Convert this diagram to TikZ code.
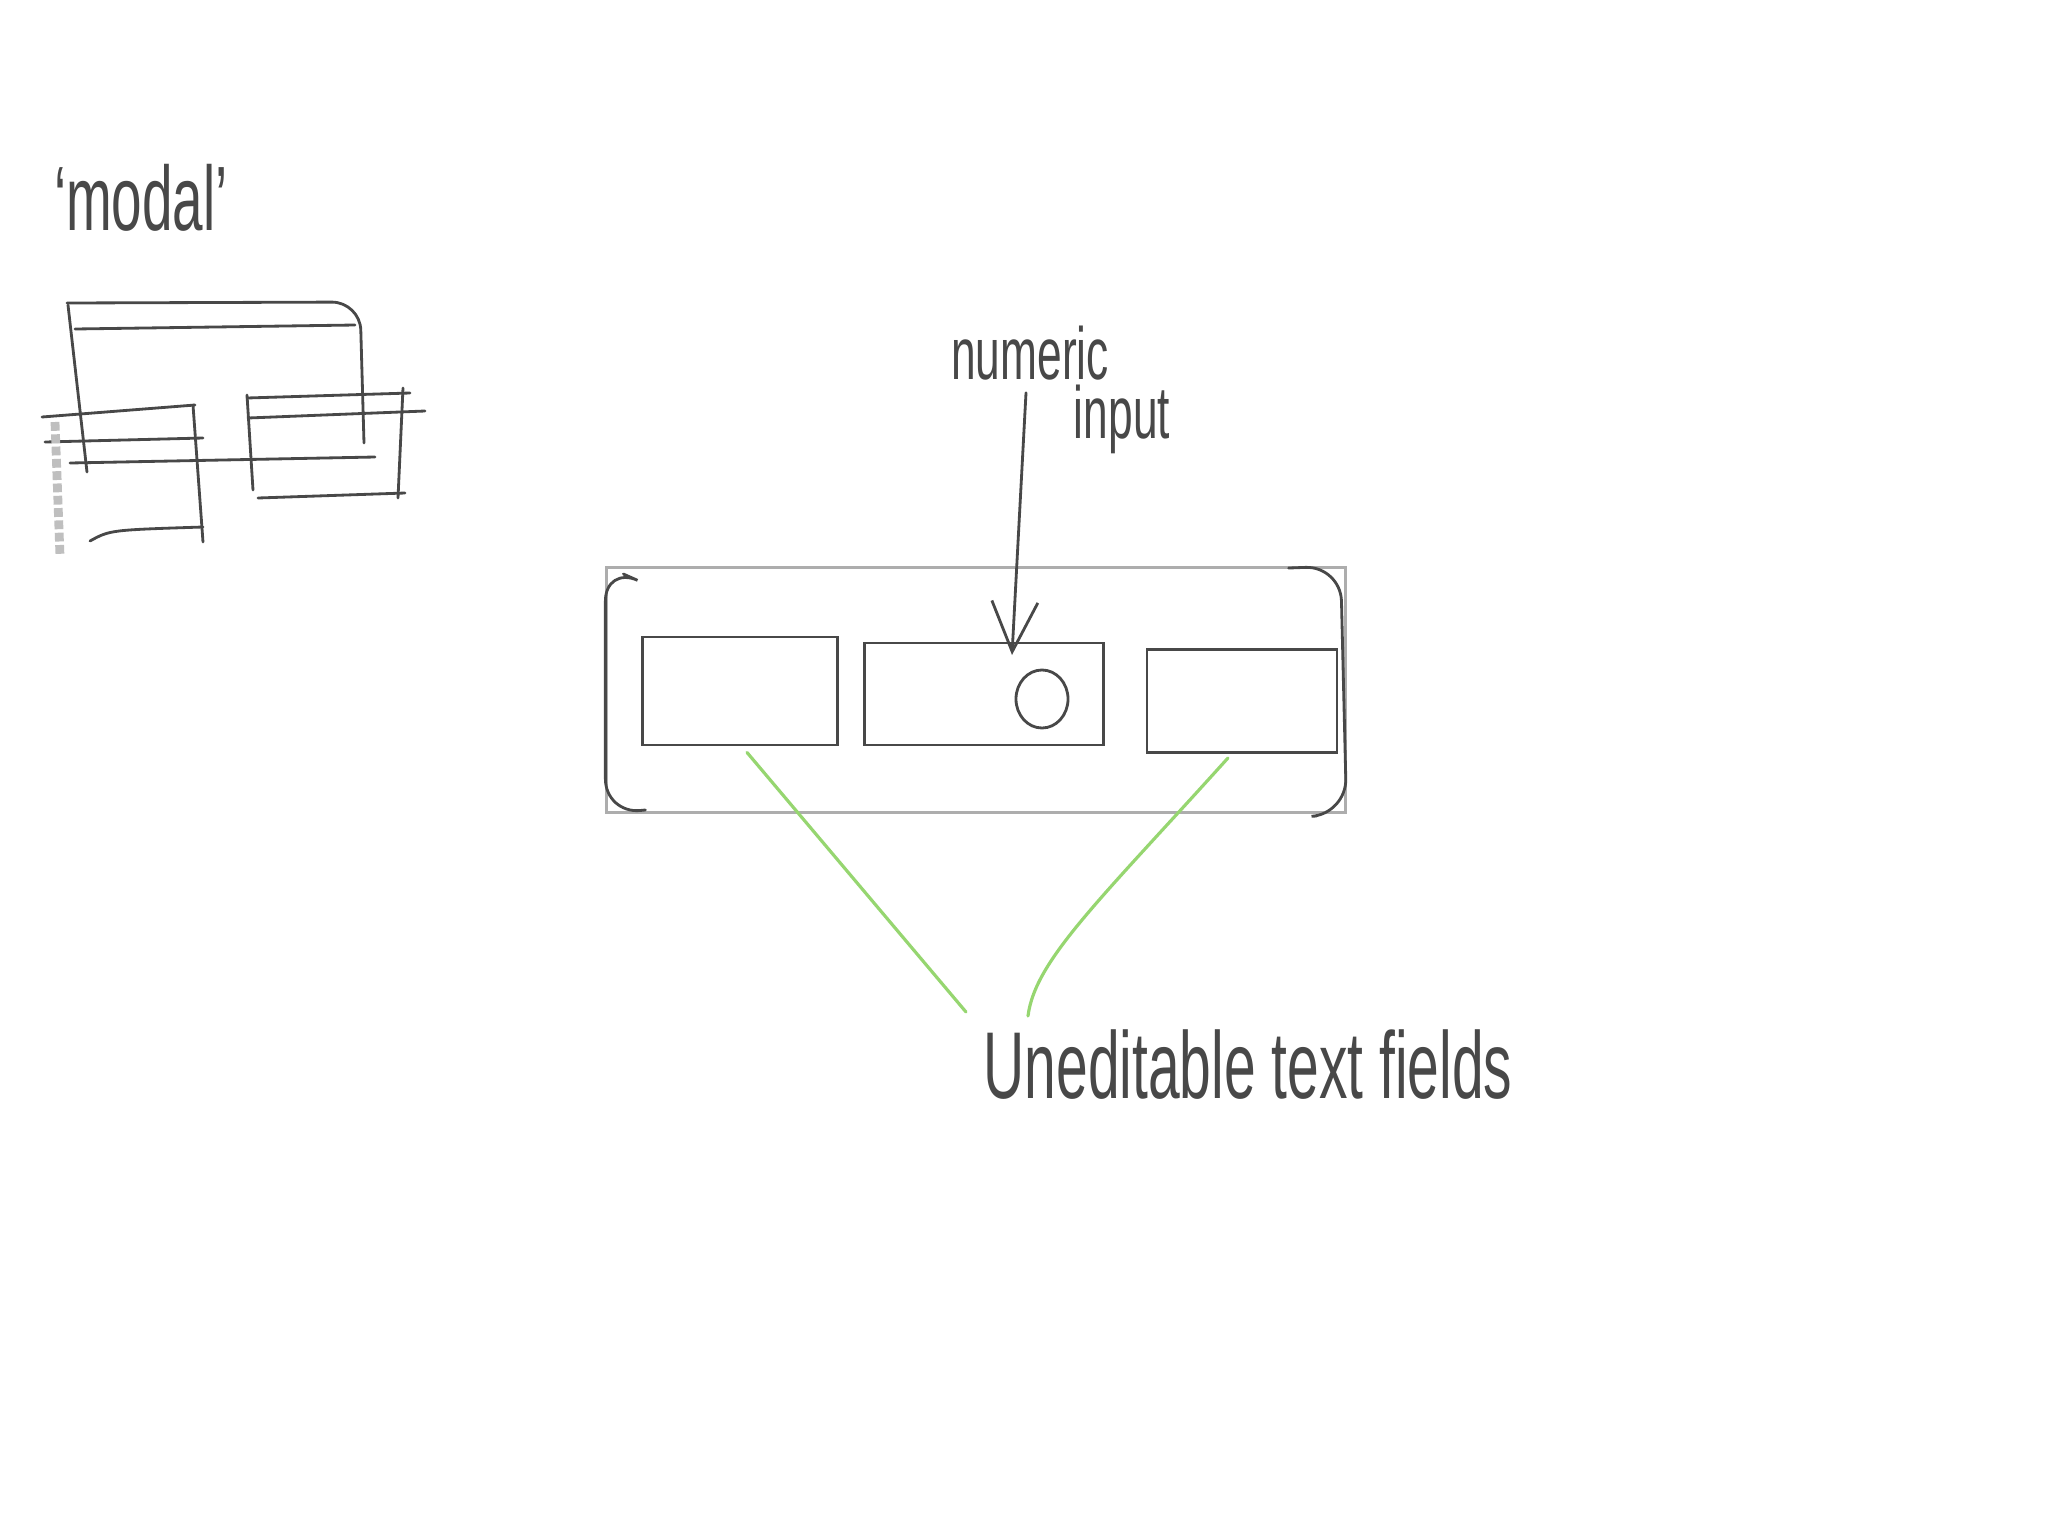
\documentclass[tikz,border=0pt]{standalone}
\usepackage{fontspec}
\newfontfamily\handfont[FakeStretch=0.6]{Liberation Sans}
\usetikzlibrary{calc}
\usetikzlibrary{arrows.meta}
\usetikzlibrary{shapes.geometric}
\definecolor{pencil}{RGB}{72,72,72}
\definecolor{sketchgreen}{RGB}{150,214,112}
\tikzset{
  sketch/.style={draw=pencil, line width=0.8pt, line cap=round},
  faint/.style={draw=pencil!45, line width=0.8pt, line cap=round},
  field/.style={sketch, rectangle, inner sep=0pt},
  hand/.style={text=pencil, inner sep=0pt, font=\handfont\fontsize{#1}{#1}\selectfont},
  hand/.default=22,
  pointer/.style={sketch, -{Straight Barb[length=5mm,width=4.6mm]}},
  green link/.style={draw=sketchgreen, line width=0.9pt, line cap=round}
}
\begin{document}
\begin{tikzpicture}[x=0.01cm, y=-0.01cm]

\fill[white] (0, 0) rectangle (2048, 1536);
\useasboundingbox (0, 0) rectangle (2048, 1536);

% thumbnail of the modal
\node[hand=26] (modal) at (141, 198) {‘modal’};

\draw[sketch, rounded corners=8pt] (67, 303) -- (360, 302) -- (364, 443);
\draw[sketch] (68, 305) -- (87, 472);
\draw[sketch] (75, 329) -- (355, 325);
\draw[sketch] (70, 463) -- (375, 457);

\draw[sketch] (42, 417) -- (195, 405);
\draw[sketch] (45, 442) -- (203, 438);
\draw[sketch] (193, 405) -- (203, 542);
\draw[sketch] (90, 541) .. controls (110, 530) .. (203, 527);
\draw[draw=pencil!35, line width=2.5pt, densely dotted] (55, 422) -- (60, 556);

\draw[sketch] (247, 398) -- (410, 393);
\draw[sketch] (248, 418) -- (425, 411);
\draw[sketch] (247, 395) -- (253, 490);
\draw[sketch] (403, 388) -- (398, 498);
\draw[sketch] (258, 498) -- (405, 493);

% the panel with its three fields
\node[faint, rectangle, minimum width=7.38cm, minimum height=2.45cm] (panel) at (976, 690) {};
\draw[sketch, rounded corners=10pt] ($(panel.north west)+(18, 8)$) -- (panel.north west) -- (panel.south west) -- ($(panel.south west)+(40, -4)$);
\draw[sketch, rounded corners=10pt] ($(panel.north east)+(-58, 2)$) -- ($(panel.north east)+(-6, 0)$) -- (panel.south east) -- ($(panel.south east)+(-30, 2)$);

\node[field, minimum width=1.95cm, minimum height=1.08cm] (leftfield) at (740, 691) {};
\node[field, minimum width=2.39cm, minimum height=1.02cm] (midfield) at (984, 694) {};
\node[field, minimum width=1.90cm, minimum height=1.03cm] (rightfield) at (1242, 701) {};
\node[sketch, ellipse, inner sep=0pt, minimum width=0.52cm, minimum height=0.58cm] (zero) at (1042, 699) {};

% annotations
\node[hand=21] (numeric) at (1030, 353) {numeric};
\node[hand=21] (input) at (1122, 419) {input};
\coordinate (tip) at (1012, 655);
\draw[pointer] (numeric.south) ++(-4, 12) -- (tip);

\node[hand=27] (uneditable) at (1248, 1065) {Uneditable text fields};
\coordinate (lefttail) at (966, 1012);
\coordinate (righttail) at (1028, 1016);
\draw[green link] ($(leftfield.south)+(7, 6)$) -- (lefttail);
\draw[green link] ($(rightfield.south)+(-14, 4)$) .. controls (1100, 900) and (1035, 960) .. (righttail);

\end{tikzpicture}
\end{document}
